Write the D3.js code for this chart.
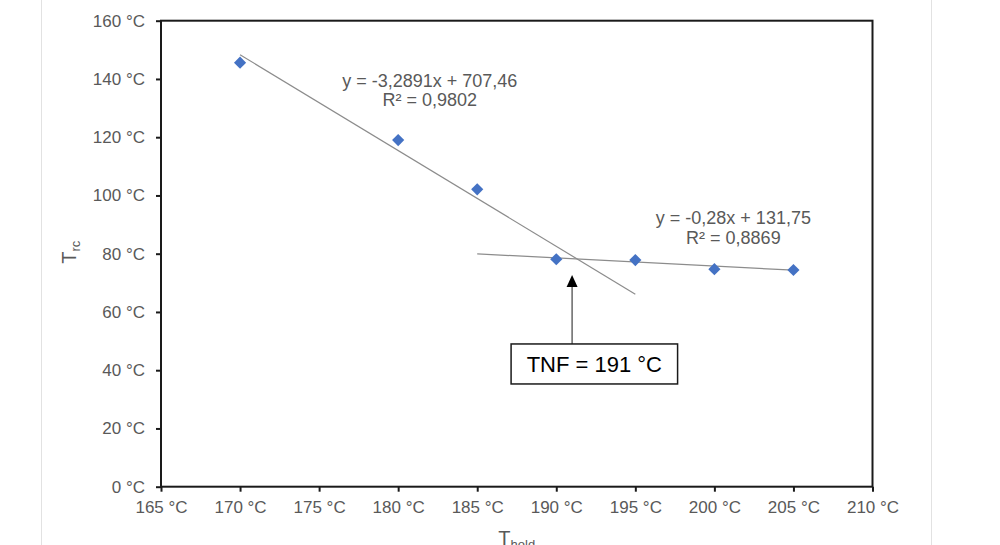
<!DOCTYPE html>
<html>
<head>
<meta charset="utf-8">
<script src="https://cdn.jsdelivr.net/npm/d3@7"></script>
<style>
  html, body { margin: 0; padding: 0; background: #fff; }
  svg { display: block; }
</style>
</head>
<body>
<svg id="chart" width="1000" height="545"></svg>
<script>
// measured points (holding temp vs crystallisation temp)
const holdTemps = [170, 180, 185, 190, 195, 200, 205];
const crystTemps = [145.6, 119.0, 102.1, 78.1, 77.8, 74.7, 74.4];

// linear trendlines as shown on the chart
const fitSlopes = [-3.2891, -0.28];
const fitIntercepts = [707.46, 131.75];
const fitStart = [170, 185];
const fitEnd = [195, 205];
const fitEquations = ["y = -3,2891x + 707,46", "y = -0,28x + 131,75"];
const fitR2 = ["R² = 0,9802", "R² = 0,8869"];
const fitLabelX = [182.0, 201.2];
const fitLabelY = [137.3, 90.1];

const xTicks = [165, 170, 175, 180, 185, 190, 195, 200, 205, 210];
const yTicks = [0, 20, 40, 60, 80, 100, 120, 140, 160];

const tnfValue = 191;
const tnfArrowTip = 72.7;

const svg = d3.select("#chart");
const font = "'Liberation Sans', Arial, sans-serif";
const labelColor = "#595959";

// page border lines of the screenshot
svg.selectAll("line.page")
  .data([41.5, 931.5])
  .enter()
  .append("line")
  .attr("class", "page")
  .attr("x1", d => d).attr("x2", d => d)
  .attr("y1", 0).attr("y2", 545)
  .attr("stroke", "#e2e2e2")
  .attr("stroke-width", 1);

const plot = { left: 161, right: 872.5, top: 20.7, bottom: 486.7 };

const x = d3.scaleLinear().domain([165, 210]).range([plot.left, plot.right]);
const y = d3.scaleLinear().domain([0, 160]).range([plot.bottom, plot.top]);

const xAxis = svg.append("g")
  .attr("transform", `translate(0,${plot.bottom})`)
  .call(d3.axisBottom(x).tickValues(xTicks).tickSize(5).tickSizeOuter(0).tickPadding(9)
    .tickFormat(d => d + " °C"));

const yAxis = svg.append("g")
  .attr("transform", `translate(${plot.left},0)`)
  .call(d3.axisLeft(y).tickValues(yTicks).tickSize(5).tickSizeOuter(0).tickPadding(11)
    .tickFormat(d => d + " °C"));

[xAxis, yAxis].forEach(g => {
  g.select(".domain").remove();
  g.selectAll(".tick line").attr("stroke", "#1a1a1a").attr("stroke-width", 2);
  g.selectAll(".tick text")
    .attr("fill", labelColor)
    .attr("font-family", font)
    .attr("font-size", 17);
});

// plot frame
svg.append("rect")
  .attr("x", plot.left).attr("y", plot.top)
  .attr("width", plot.right - plot.left)
  .attr("height", plot.bottom - plot.top)
  .attr("fill", "none")
  .attr("stroke", "#1a1a1a")
  .attr("stroke-width", 2);

// trendlines
svg.selectAll("line.fit")
  .data(fitSlopes)
  .enter()
  .append("line")
  .attr("class", "fit")
  .attr("x1", (d, i) => x(fitStart[i]))
  .attr("y1", (d, i) => y(d * fitStart[i] + fitIntercepts[i]))
  .attr("x2", (d, i) => x(fitEnd[i]))
  .attr("y2", (d, i) => y(d * fitEnd[i] + fitIntercepts[i]))
  .attr("stroke", "#8c8c8c")
  .attr("stroke-width", 1.2);

// markers
const diamond = d3.symbol().type(d3.symbolSquare).size(74);
svg.selectAll("path.pt")
  .data(holdTemps)
  .enter()
  .append("path")
  .attr("class", "pt")
  .attr("d", diamond)
  .attr("transform", (d, i) => `translate(${x(d)},${y(crystTemps[i])}) rotate(45)`)
  .attr("fill", "#4472C4");

// equation labels
const eq = svg.selectAll("g.eq")
  .data(fitEquations)
  .enter()
  .append("g")
  .attr("class", "eq")
  .attr("transform", (d, i) => `translate(${x(fitLabelX[i])},${y(fitLabelY[i])})`);

eq.append("text")
  .text(d => d)
  .attr("text-anchor", "middle")
  .attr("font-family", font)
  .attr("font-size", 18)
  .attr("fill", labelColor);

eq.append("text")
  .text((d, i) => fitR2[i])
  .attr("y", 19.5)
  .attr("text-anchor", "middle")
  .attr("font-family", font)
  .attr("font-size", 18)
  .attr("fill", labelColor);

// TNF annotation
const ax = x(tnfValue);
const ay = y(tnfArrowTip);
const boxTop = ay + 69;

svg.append("line")
  .attr("x1", ax).attr("x2", ax)
  .attr("y1", ay + 10).attr("y2", boxTop)
  .attr("stroke", "#404040")
  .attr("stroke-width", 1.2);

svg.append("path")
  .attr("d", `M${ax},${ay} L${ax - 5.5},${ay + 12} L${ax + 5.5},${ay + 12} Z`)
  .attr("fill", "#000");

svg.append("rect")
  .attr("x", ax - 61).attr("y", boxTop)
  .attr("width", 166.5).attr("height", 40)
  .attr("fill", "#fff")
  .attr("stroke", "#1a1a1a")
  .attr("stroke-width", 1.5);

svg.append("text")
  .attr("x", ax - 61 + 166.5 / 2)
  .attr("y", boxTop + 28)
  .attr("text-anchor", "middle")
  .attr("font-family", font)
  .attr("font-size", 22)
  .attr("fill", "#000")
  .text("TNF = " + tnfValue + " °C");

// axis titles
const yTitle = svg.append("text")
  .attr("transform", `translate(76,${(plot.top + plot.bottom) / 2 + 10}) rotate(-90)`)
  .attr("font-family", font)
  .attr("fill", labelColor);
yTitle.append("tspan").attr("font-size", 20).text("T");
yTitle.append("tspan").attr("font-size", 13).attr("dy", 4).text("rc");

const xTitle = svg.append("text")
  .attr("x", (plot.left + plot.right) / 2)
  .attr("y", 544.5)
  .attr("text-anchor", "middle")
  .attr("font-family", font)
  .attr("fill", labelColor);
xTitle.append("tspan").attr("font-size", 20).text("T");
xTitle.append("tspan").attr("font-size", 13).attr("dy", 4).text("hold");
</script>
</body>
</html>
